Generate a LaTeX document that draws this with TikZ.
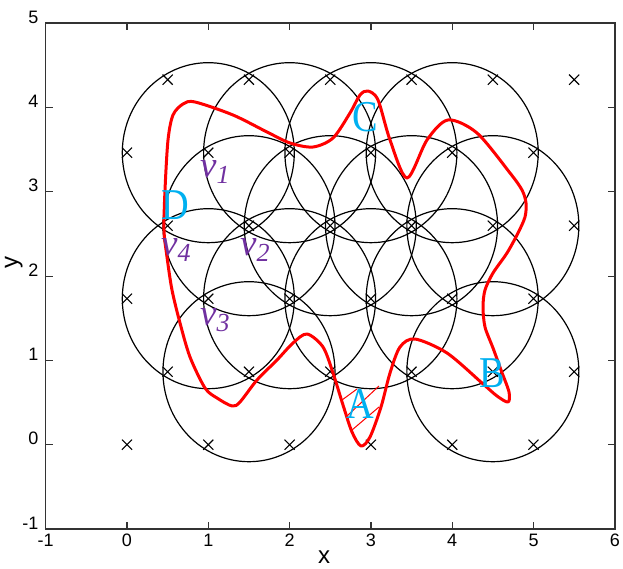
\documentclass[tikz,border=0pt]{standalone}
\usepackage{fontspec}
\setmainfont{Liberation Sans}
\newfontfamily\tnr{Liberation Serif}
\usetikzlibrary{shapes.geometric,shapes.misc}
\definecolor{labelblue}{RGB}{0,176,240}
\definecolor{vpurple}{RGB}{112,48,160}
\newcommand{\vlabel}[1]{{\fontsize{37}{37}\selectfont v}\raisebox{-6pt}{\fontsize{26}{26}\selectfont #1}}
\begin{document}
\begin{tikzpicture}[x=1pt,y=-1pt,
  circ/.style={draw=black, line width=1.2pt, ellipse, minimum width=172pt, minimum height=180pt, inner sep=0pt, outer sep=0pt},
  crossmark/.style={draw=black, line width=1.1pt, cross out, minimum size=9pt, inner sep=0pt},
  ticklab/.style={font=\fontsize{18}{18}\selectfont, inner sep=0pt},
  axlab/.style={font=\fontsize{24}{24}\selectfont, inner sep=0pt},
  bigletter/.style={text=labelblue, inner sep=0pt, font=\tnr\fontsize{44}{44}\selectfont},
  vlab/.style={text=vpurple, inner sep=0pt, font=\tnr\itshape},
  boundary/.style={draw=red, line width=3pt, line join=round},
  hatch/.style={draw=red, line width=1pt},
  tickline/.style={draw=black!80, line width=1.2pt}
]
\useasboundingbox (0,0) rectangle (623,569);
% axes box and ticks
\draw[line width=1.5pt, black!80] (45.7,23.2) rectangle (614.8,529);
\foreach \i in {0,...,5} {
  \draw[tickline] ({127+81.3*\i},529) -- ++(0,-7);
  \draw[tickline] ({127+81.3*\i},23.2) -- ++(0,7);
}
\foreach \j in {0,...,4} {
  \draw[tickline] (45.7,{444.7-84.3*\j}) -- ++(7,0);
  \draw[tickline] (614.8,{444.7-84.3*\j}) -- ++(-7,0);
}
\foreach \i in {-1,...,6}
  \node[ticklab, anchor=base] (xt\i) at ({127+81.3*\i},546.5) {\i};
\foreach \j in {-1,...,5}
  \node[ticklab, anchor=base east] (yt\j) at (38.5,{444.7-84.3*\j}) {\j};
\node[axlab, anchor=base] (xlab) at (324,563) {x};
\node[axlab, anchor=base, rotate=90] (ylab) at (17.5,262.5) {y};
% data scope
\begin{scope}[shift={(127,444.7)}, x=81.3pt, y=84.3pt]
  \foreach \cx/\cy [count=\k] in {1/3.464, 2/3.464, 3/3.464, 4/3.464,
      1.5/2.598, 2.5/2.598, 3.5/2.598, 4.5/2.598,
      1/1.732, 2/1.732, 3/1.732, 4/1.732,
      1.5/0.866, 4.5/0.866}
    \node[circ] (c\k) at (\cx,\cy) {};
  \foreach \r in {0,...,5} {
    \foreach \i in {0,...,5} {
      \pgfmathsetmacro\mx{\i + 0.5*mod(\r,2)}
      \node[crossmark] (m\r\i) at (\mx, {0.866*\r}) {};
    }
  }
\end{scope}
% red boundary curve
\draw[boundary] plot[smooth cycle, tension=0.5] coordinates {
  (168,140) (173,115) (183,104) (195,102) (233,115) (267,132) (290,143)
  (313,147) (333,138) (350,113) (360,95) (368,91) (378,100) (390,140)
  (407,178) (427,140) (448,120) (477,133) (510,173) (522,190) (526,203)
  (525,217) (518,233) (507,253) (493,273) (485,290) (483,307) (485,327)
  (493,348) (501,370) (509,392) (508,402)
  (497,396) (482,383) (447,353) (415,339) (400,347) (390,373) (381,407)
  (370,437) (361,446) (352,432) (343,405) (333,373) (323,347) (307,334)
  (293,343) (277,360) (257,380) (240,402) (232,406) (217,398) (205,388)
  (190,357) (180,323) (172,290) (167,257) (164,230) (165,190)
};
% hatching near A
\coordinate (h1a) at (342,400); \coordinate (h1b) at (357,389);
\coordinate (h2a) at (347,416); \coordinate (h2b) at (379,386);
\coordinate (h3a) at (352,430); \coordinate (h3b) at (379,407);
\draw[hatch] (h1a) -- (h1b);
\draw[hatch] (h2a) -- (h2b);
\draw[hatch] (h3a) -- (h3b);
% letters
\node[bigletter, anchor=base] (lD) at (175,220) {\scalebox{0.87}[1]{D}};
\node[bigletter, anchor=base] (lC) at (365.5,132) {\scalebox{0.87}[1]{C}};
\node[bigletter, anchor=base] (lB) at (492,387) {\scalebox{0.87}[1]{B}};
\node[bigletter, anchor=base] (lA) at (360,418) {\scalebox{0.87}[1]{A}};
% v labels
\node[vlab, anchor=base west] (v1) at (200,178) {\vlabel{1}};
\node[vlab, anchor=base west] (v2) at (240,255) {\vlabel{2}};
\node[vlab, anchor=base west] (v3) at (200,325) {\vlabel{3}};
\node[vlab, anchor=base west] (v4) at (161,255) {\vlabel{4}};
\end{tikzpicture}
\end{document}
